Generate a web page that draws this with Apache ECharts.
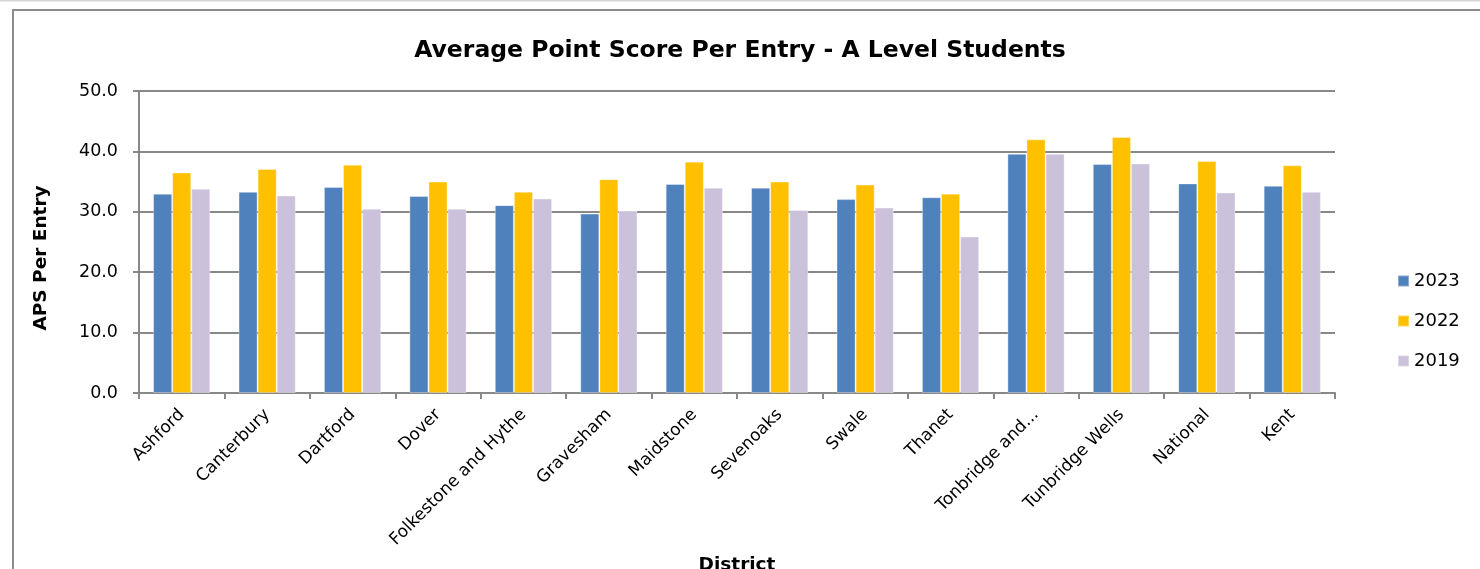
<!DOCTYPE html>
<html>
<head>
<meta charset="utf-8">
<title>Average Point Score Per Entry</title>
<script src="https://cdn.jsdelivr.net/npm/echarts@6/dist/echarts.min.js"></script>
<style>
  html, body { margin: 0; padding: 0; background: #fff; }
  #chart { width: 1480px; height: 569px; }
</style>
</head>
<body>
<div id="chart"></div>
<script>
// districts along the x axis
var districts = ['Ashford', 'Canterbury', 'Dartford', 'Dover', 'Folkestone and Hythe',
  'Gravesham', 'Maidstone', 'Sevenoaks', 'Swale', 'Thanet', 'Tonbridge and Malling',
  'Tunbridge Wells', 'National', 'Kent'];

// APS per entry
var aps2023 = [33.0, 33.3, 34.1, 32.6, 31.1, 29.7, 34.6, 34.0, 32.1, 32.4, 39.6, 37.9, 34.7, 34.3];
var aps2022 = [36.5, 37.1, 37.8, 35.0, 33.3, 35.4, 38.3, 35.0, 34.5, 33.0, 42.0, 42.4, 38.4, 37.7];
var aps2019 = [33.8, 32.7, 30.5, 30.5, 32.2, 30.2, 34.0, 30.3, 30.7, 25.9, 39.6, 38.0, 33.2, 33.3];

var font = 'DejaVu Sans';

var myChart = echarts.init(document.getElementById('chart'));

function bar(name, data, colour) {
  return {
    name: name,
    type: 'bar',
    data: data,
    barGap: '0%',
    barCategoryGap: '33%',
    itemStyle: { color: colour, borderColor: 'rgba(255,255,255,0.35)', borderWidth: 1 }
  };
}

var option = {
  backgroundColor: '#fff',
  animation: false,
  title: {
    text: 'Average Point Score Per Entry - A Level Students',
    left: 'center',
    top: 34,
    textStyle: { fontFamily: font, fontSize: 23.5, fontWeight: 'bold', color: '#000' }
  },
  legend: {
    orient: 'vertical',
    left: 1392,
    top: 267,
    itemWidth: 11,
    itemHeight: 11,
    itemGap: 22,
    itemTextGap: 6,
    icon: 'rect',
    textStyle: { fontFamily: font, fontSize: 18, color: '#000' },
    data: ['2023', '2022', '2019']
  },
  grid: { left: 139, right: 145, top: 91, bottom: 176, outerBoundsMode: 'none' },
  xAxis: {
    type: 'category',
    data: districts,
    name: 'District',
    nameLocation: 'middle',
    nameGap: 160,
    nameTextStyle: { fontFamily: font, fontSize: 18.5, fontWeight: 'bold', color: '#000' },
    axisLine: { lineStyle: { color: '#888', width: 2 } },
    axisTick: { show: true, length: 6, lineStyle: { color: '#888', width: 2 } },
    axisLabel: {
      rotate: 45,
      interval: 0,
      margin: 19,
      fontFamily: font,
      fontSize: 17,
      color: '#000',
      formatter: function (v) { return v.length > 20 ? v.slice(0, 13) + '...' : v; }
    }
  },
  yAxis: {
    type: 'value',
    min: 0,
    max: 50,
    interval: 10,
    name: 'APS Per Entry',
    nameLocation: 'middle',
    nameGap: 88,
    nameRotate: 90,
    nameTextStyle: { fontFamily: font, fontSize: 18.5, fontWeight: 'bold', color: '#000', padding: [0, 0, 0, -32] },
    axisLine: { show: true, lineStyle: { color: '#888', width: 2 } },
    axisTick: { show: true, length: 6, lineStyle: { color: '#888', width: 2 } },
    splitLine: { lineStyle: { color: '#888', width: 2 } },
    axisLabel: {
      margin: 21,
      fontFamily: font,
      fontSize: 17.5,
      color: '#000',
      formatter: function (v) { return v.toFixed(1); }
    }
  },
  graphic: [
    { type: 'line', shape: { x1: 0, y1: 0.5, x2: 1480, y2: 0.5 }, style: { stroke: '#d4d4d4', lineWidth: 2 } },
    { type: 'rect', shape: { x: 13, y: 10, width: 1600, height: 700 }, style: { fill: 'none', stroke: '#8c8c8c', lineWidth: 2 } }
  ],
  series: [
    bar('2023', aps2023, '#4f81bd'),
    bar('2022', aps2022, '#ffc000'),
    bar('2019', aps2019, '#ccc1da')
  ]
};

myChart.setOption(option);
</script>
</body>
</html>
